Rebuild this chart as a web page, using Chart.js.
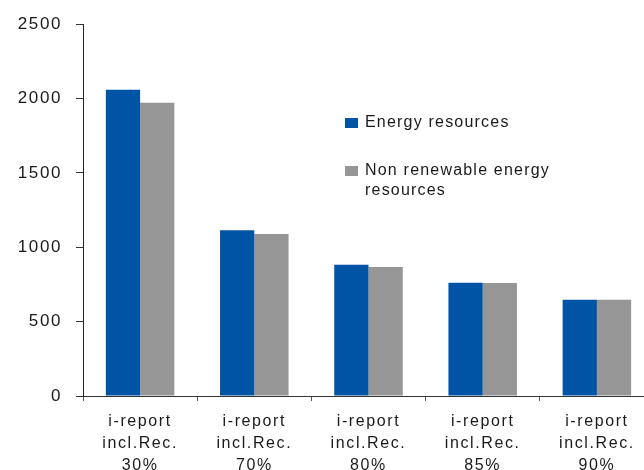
<!DOCTYPE html>
<html>
<head>
<meta charset="utf-8">
<script src="https://cdn.jsdelivr.net/npm/chart.js@4"></script>
<style>
html, body { margin: 0; padding: 0; overflow: hidden; background: #fff; }
#wrap { width: 664px; height: 470px; }
</style>
</head>
<body>
<div id="wrap"><canvas id="energyChart" width="664" height="470"></canvas></div>
<script>
// data
const categories = [
    ['i-report', 'incl.Rec.', '30%'],
    ['i-report', 'incl.Rec.', '70%'],
    ['i-report', 'incl.Rec.', '80%'],
    ['i-report', 'incl.Rec.', '85%'],
    ['i-report', 'incl.Rec.', '90%']
];
const energyResources = [2060, 1115, 882, 762, 648];
const nonRenewableResources = [1972, 1090, 868, 760, 647];
const yTicks = [0, 500, 1000, 1500, 2000, 2500];

const FONT = '"Liberation Sans", Arial, sans-serif';

// spread the letters a little, like the original
const spacingPlugin = {
    id: 'spacing',
    beforeDraw(chart) {
        chart.ctx.letterSpacing = '1.6px';
    }
};

// legend drawn inside the plot, to the right
const sideLegend = {
    id: 'sideLegend',
    afterDraw(chart) {
        const ctx = chart.ctx;
        ctx.save();
        ctx.letterSpacing = '1.2px';
        ctx.font = '16px ' + FONT;
        ctx.textBaseline = 'middle';
        ctx.textAlign = 'left';
        let y = 123;
        chart.data.datasets.forEach(ds => {
            ctx.fillStyle = ds.backgroundColor;
            ctx.fillRect(345, y - 5, 13, 10);
            // simple word wrap
            const words = ds.label.split(' ');
            const lines = [];
            let line = '';
            words.forEach(w => {
                const test = line ? line + ' ' + w : w;
                if (ctx.measureText(test).width > 205 && line) {
                    lines.push(line);
                    line = w;
                } else {
                    line = test;
                }
            });
            lines.push(line);
            ctx.fillStyle = '#1a1a1a';
            lines.forEach((ln, i) => ctx.fillText(ln, 365, y + i * 20));
            y += 48;
        });
        ctx.restore();
    }
};

const ctx = document.getElementById('energyChart').getContext('2d');
const energyChart = new Chart(ctx, {
    type: 'bar',
    data: {
        labels: categories,
        datasets: [{
            label: 'Energy resources',
            data: energyResources,
            backgroundColor: 'rgb(0, 84, 166)',
            borderWidth: 0
        }, {
            label: 'Non renewable energy resources',
            data: nonRenewableResources,
            backgroundColor: 'rgb(150, 150, 150)',
            borderWidth: 0
        }]
    },
    options: {
        responsive: false,
        animation: false,
        devicePixelRatio: 1,
        layout: {
            padding: { top: 22, right: 10, left: 0, bottom: 0 }
        },
        datasets: {
            bar: { categoryPercentage: 0.6, barPercentage: 1.0 }
        },
        plugins: {
            legend: { display: false },
            tooltip: { enabled: false }
        },
        scales: {
            x: {
                grid: {
                    drawOnChartArea: false,
                    drawTicks: true,
                    tickLength: 5,
                    color: '#555'
                },
                border: { color: '#333', width: 1 },
                ticks: {
                    color: '#1a1a1a',
                    font: { family: FONT, size: 16, lineHeight: 1.4 },
                    padding: 9,
                    maxRotation: 0,
                    autoSkip: false
                },
                afterFit(scale) { scale.height = 74; }
            },
            y: {
                min: 0,
                max: yTicks[yTicks.length - 1],
                afterBuildTicks(scale) {
                    scale.ticks = yTicks.map(v => ({ value: v }));
                },
                grid: {
                    drawOnChartArea: false,
                    drawTicks: true,
                    tickLength: 7,
                    color: '#333'
                },
                border: { color: '#222', width: 1 },
                ticks: {
                    color: '#1a1a1a',
                    font: { family: FONT, size: 17 },
                    padding: 14,
                    callback: v => String(v)
                },
                afterFit(scale) { scale.width = 83; }
            }
        }
    },
    plugins: [spacingPlugin, sideLegend]
});
</script>
</body>
</html>
